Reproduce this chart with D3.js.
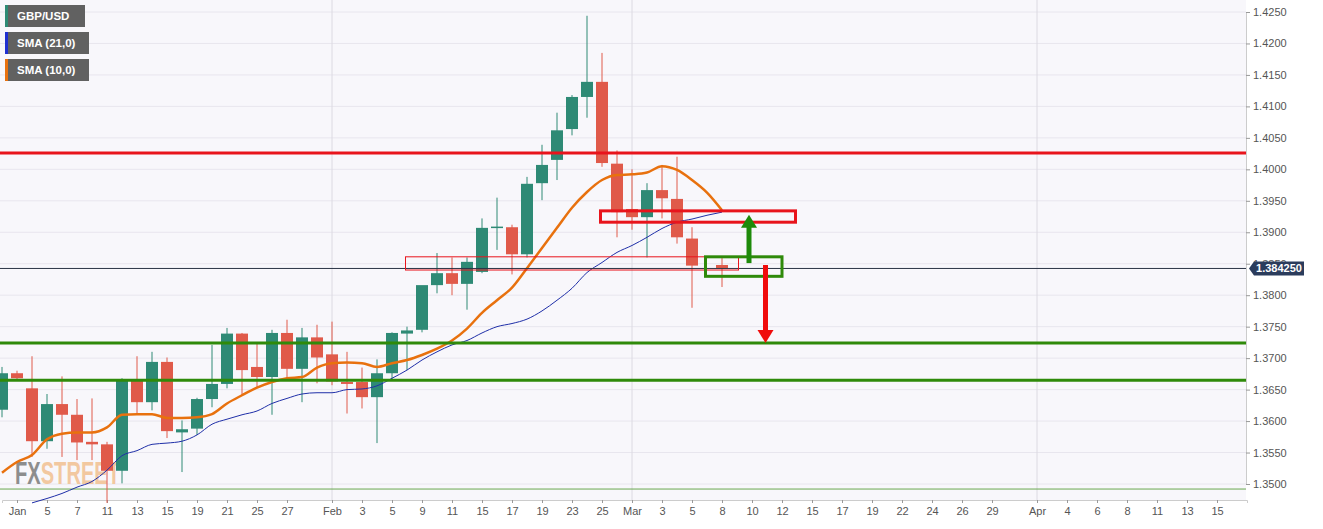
<!DOCTYPE html>
<html><head><meta charset="utf-8">
<script src="https://cdn.jsdelivr.net/npm/d3@7"></script>
<style>body{margin:0;background:#fff;font-family:Arial,"Liberation Sans",sans-serif}</style>
</head><body><svg id="c" width="1323" height="529"></svg>
<script>
// slot index (0 = Dec 31), OHLC
const slots = [0,1,2,3,4,5,6,7,8,9,10,11,12,13,14,15,16,17,18,19,20,21,22,23,24,25,26,27,28,29,30,31,32,33,34,35,36,37,38,39,40,41,42,43,44,45,46,48];
const opens =  [1.3618,1.3676,1.3652,1.3568,1.3627,1.3610,1.3567,1.3563,1.3521,1.3665,1.3630,1.3694,1.3582,1.3588,1.3635,1.3659,1.3739,1.3686,1.3670,1.3740,1.3683,1.3733,1.3706,1.3662,1.3662,1.3638,1.3676,1.3739,1.3745,1.3816,1.3835,1.3818,1.3837,1.3907,1.3908,1.3865,1.3978,1.4015,1.4064,1.4115,1.4139,1.4009,1.3937,1.3924,1.3967,1.3953,1.3890,1.3848];
const highs =  [1.3686,1.3680,1.3703,1.3643,1.3671,1.3635,1.3636,1.3567,1.3668,1.3703,1.3710,1.3701,1.3601,1.3637,1.3721,1.3748,1.3740,1.3725,1.3745,1.3761,1.3748,1.3753,1.3758,1.3710,1.3685,1.3698,1.3741,1.3750,1.3748,1.3867,1.3860,1.3860,1.3922,1.3955,1.3912,1.3988,1.4039,1.4090,1.4118,1.4244,1.4185,1.4030,1.4000,1.3978,1.4007,1.4020,1.3908,1.3859];
const lows =   [1.3606,1.3666,1.3543,1.3556,1.3543,1.3538,1.3538,1.3470,1.3501,1.3612,1.3617,1.3573,1.3519,1.3578,1.3622,1.3652,1.3641,1.3653,1.3610,1.3665,1.3630,1.3660,1.3657,1.3612,1.3620,1.3565,1.3665,1.3681,1.3741,1.3803,1.3800,1.3777,1.3835,1.3872,1.3833,1.3860,1.3951,1.3983,1.4054,1.4082,1.4004,1.3892,1.3904,1.3860,1.3922,1.3882,1.3780,1.3813];
const closes = [1.3676,1.3668,1.3568,1.3627,1.3610,1.3566,1.3563,1.3521,1.3665,1.3630,1.3694,1.3584,1.3587,1.3635,1.3659,1.3739,1.3681,1.3670,1.3740,1.3683,1.3733,1.3701,1.3663,1.3659,1.3638,1.3676,1.3740,1.3744,1.3816,1.3835,1.3818,1.3853,1.3907,1.3909,1.3865,1.3977,1.4007,1.4062,1.4115,1.4139,1.4010,1.3932,1.3924,1.3967,1.3954,1.3892,1.3847,1.38425];
const sma10 = [1.3518,1.3535,1.3546,1.3571,1.3580,1.3582,1.3582,1.3590,1.3610,1.3611,1.3611,1.3605,1.3605,1.3606,1.3611,1.3628,1.3641,1.3653,1.3662,1.3668,1.3670,1.3685,1.3692,1.3693,1.3692,1.3686,1.3692,1.3697,1.3705,1.3715,1.3728,1.3747,1.3772,1.3792,1.3812,1.3843,1.3875,1.3907,1.3939,1.3964,1.3983,1.3991,1.3992,1.3995,1.4005,1.3999,1.3983,1.3963,1.3935];
const sma21 = [null,null,1.3470,1.3477,1.3485,1.3495,1.3504,1.3522,1.3545,1.3553,1.3563,1.3565,1.3568,1.3578,1.3595,1.3603,1.3610,1.3616,1.3628,1.3636,1.3643,1.3645,1.3645,1.3650,1.3651,1.3656,1.3668,1.3681,1.3697,1.3710,1.3721,1.3728,1.3740,1.3750,1.3755,1.3762,1.3775,1.3792,1.3811,1.3836,1.3852,1.3868,1.3879,1.3892,1.3906,1.3916,1.3921,1.3927,1.3932];
const xLabels = ["Jan","5","7","11","13","15","19","21","25","27","Feb","3","5","9","11","15","17","19","23","25","Mar","3","5","8","10","12","15","17","19","22","24","26","29","Apr","4","6","8","11","13","15"];
const xLabelSlots = [1,3,5,7,9,11,13,15,17,19,22,24,26,28,30,32,34,36,38,40,42,44,46,48,50,52,54,56,58,60,62,64,66,69,71,73,75,77,79,81];
const yTicks = [1.35,1.355,1.36,1.365,1.37,1.375,1.38,1.385,1.39,1.395,1.40,1.405,1.41,1.415,1.42,1.425];
const resistance = [1.4026];
const supports = [1.3724,1.3665];
const thinSupport = [1.3492];
const currentPrice = 1.38425;
const legend = [["GBP/USD","#2e8a75"],["SMA (21,0)","#1f2fd0"],["SMA (10,0)","#e8710e"]];

const svg = d3.select("#c");
const W=1246, H=500;
const x = d3.scaleLinear().domain([0,83]).range([2,2+15*83]);
const y = d3.scaleLinear().domain([1.35,1.425]).range([484,12]);
svg.append("rect").attr("x",0).attr("y",0).attr("width",W).attr("height",H).attr("fill","#f8f7fb");
svg.append("g").selectAll("line").data(yTicks).join("line")
 .attr("x1",0).attr("x2",W).attr("y1",d=>y(d)).attr("y2",d=>y(d)).attr("stroke","#e8e6ee");
svg.append("g").selectAll("line").data([22,42,69]).join("line")
 .attr("x1",d=>x(d)).attr("x2",d=>x(d)).attr("y1",0).attr("y2",H).attr("stroke","#dcdae2");
const ya = d3.axisRight(y).tickValues(yTicks).tickFormat(d3.format(".4f")).tickSize(4);
const gy = svg.append("g").attr("transform",`translate(${W},0)`).call(ya);
gy.select(".domain").attr("stroke","#ccc");
gy.selectAll("line").attr("stroke","#999");
gy.selectAll("text").attr("fill","#555").attr("font-size",11).attr("font-family","Arial,Liberation Sans");
const xa = d3.axisBottom(x).tickValues(xLabelSlots).tickFormat((d,i)=>xLabels[i]).tickSize(3);
const gx = svg.append("g").attr("transform",`translate(0,${H})`).call(xa);
gx.select(".domain").attr("stroke","#ccc");
gx.selectAll("line").attr("stroke","#999");
gx.selectAll("text").attr("fill","#555").attr("font-size",11).attr("dy","0.8em").attr("font-family","Arial,Liberation Sans");
const wm = svg.append("text").attr("x",15).attr("y",484).attr("font-size",32).attr("font-family","Liberation Sans Narrow,Arial Narrow,Arial").attr("font-weight","bold")
 .attr("textLength",105).attr("lengthAdjust","spacingAndGlyphs");
wm.append("tspan").text("FX").attr("fill","#8d8d8d");
wm.append("tspan").text("STREET").attr("fill","#f2c8a0");
svg.append("g").selectAll("line").data(thinSupport).join("line").attr("x1",0).attr("x2",W).attr("y1",d=>y(d)).attr("y2",d=>y(d)).attr("stroke","#6aa84f").attr("stroke-width",1);
const data = slots.map((s,i)=>({s,o:opens[i],h:highs[i],l:lows[i],c:closes[i]}));
const cg = svg.append("g");
cg.selectAll("line").data(data).join("line").attr("x1",d=>x(d.s)).attr("x2",d=>x(d.s)).attr("y1",d=>y(d.h)).attr("y2",d=>y(d.l))
 .attr("stroke",d=>d.c>=d.o?"#2e8a75":"#e05a4a").attr("stroke-width",1);
cg.selectAll("rect").data(data).join("rect").attr("x",d=>x(d.s)-6).attr("width",12)
 .attr("y",d=>y(Math.max(d.o,d.c))).attr("height",d=>Math.max(1.5,Math.abs(y(d.o)-y(d.c))))
 .attr("fill",d=>d.c>=d.o?"#2e8a75":"#e05a4a");
const sl = d3.line().defined(d=>d!=null).x((d,i)=>x(i)).y(d=>y(d)).curve(d3.curveMonotoneX);
svg.append("path").attr("d",sl(sma21)).attr("fill","none").attr("stroke","#1f2fa8").attr("stroke-width",1);
svg.append("path").attr("d",sl(sma10)).attr("fill","none").attr("stroke","#e8710e").attr("stroke-width",2.5);
svg.append("g").selectAll("line").data(resistance).join("line").attr("x1",0).attr("x2",W).attr("y1",d=>y(d)).attr("y2",d=>y(d)).attr("stroke","#e8141c").attr("stroke-width",3);
svg.append("g").selectAll("line").data(supports).join("line").attr("x1",0).attr("x2",W).attr("y1",d=>y(d)).attr("y2",d=>y(d)).attr("stroke","#2f8a0a").attr("stroke-width",3);
svg.append("line").attr("x1",0).attr("x2",W).attr("y1",y(currentPrice)).attr("y2",y(currentPrice)).attr("stroke","#2a3446").attr("stroke-width",1);
function box(s0,s1,p0,p1,col,w){svg.append("rect").attr("x",x(s0)).attr("width",x(s1)-x(s0)).attr("y",y(p0)).attr("height",y(p1)-y(p0)).attr("fill","none").attr("stroke",col).attr("stroke-width",w);}
box(26.9,49.1,1.3861,1.3840,"#e8141c",1);
box(39.9,52.9,1.3934,1.3916,"#e8141c",3);
box(46.9,52,1.3861,1.3830,"#2f8a0a",3);
function arrow(s,p0,p1,col){
 const xx=x(s), y0=y(p0), y1=y(p1), dir=y1<y0?1:-1;
 svg.append("line").attr("x1",xx).attr("x2",xx).attr("y1",y0).attr("y2",y1+dir*12).attr("stroke",col).attr("stroke-width",5);
 svg.append("path").attr("d",`M${xx-8},${y1+dir*13}L${xx+8},${y1+dir*13}L${xx},${y1}Z`).attr("fill",col);
}
arrow(49.8,1.3851,1.3928,"#1e8a0a");
arrow(50.9,1.3848,1.3724,"#f00c0c");
const py=y(currentPrice);
svg.append("path").attr("d",`M${W+3},${py}L${W+8},${py-7}L${W+58},${py-7}L${W+58},${py+7}L${W+8},${py+7}Z`).attr("fill","#2b3c5c");
svg.append("text").attr("x",W+33).attr("y",py+4).attr("text-anchor","middle").attr("fill","#fff").attr("font-size",11).attr("font-weight","bold").text("1.384250");
legend.forEach((l,i)=>{
 const g=svg.append("g").attr("transform",`translate(5,${5+i*27})`);
 g.append("rect").attr("width",i==0?80:84).attr("height",22).attr("fill","#616161");
 g.append("rect").attr("width",3).attr("height",22).attr("fill",l[1]);
 g.append("text").attr("x",12).attr("y",15).attr("fill","#fff").attr("font-size",11.5).attr("font-weight","bold").text(l[0]);
});
</script></body></html>
